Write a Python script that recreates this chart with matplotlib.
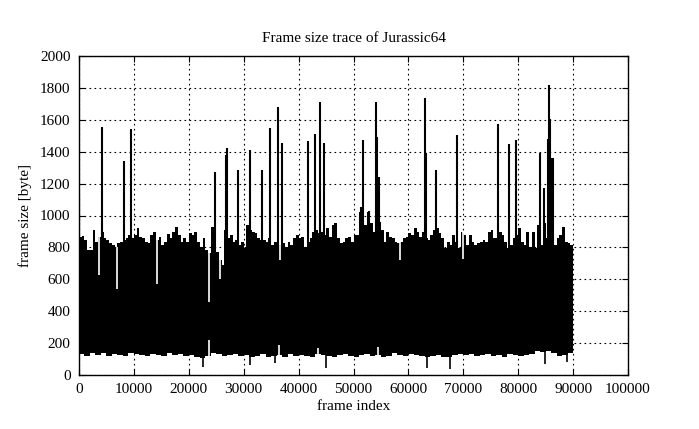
import numpy as np
import matplotlib.pyplot as plt

plt.rcParams['font.family'] = 'Liberation Serif'

# upper envelope of the trace, one value per 500 frames
upper = [867, 873, 846, 783, 783, 909, 836, 867, 898, 857, 846, 825, 815, 804, 825, 836, 846, 857, 878, 857,
         878, 920, 867, 857, 836, 825, 878, 898, 846, 867, 815, 836, 882, 857, 898, 926, 878, 836, 857, 836,
         888, 878, 898, 836, 804, 857, 783, 762, 930, 815, 773, 720, 690, 909, 857, 878, 836, 846, 815, 836,
         794, 940, 909, 898, 888, 857, 846, 846, 836, 857, 815, 836, 846, 815, 825, 804, 836, 815, 857, 878,
         857, 867, 804, 836, 857, 898, 909, 888, 898, 878, 920, 867, 940, 951, 857, 825, 836, 857, 867, 836,
         878, 878, 1024, 898, 940, 1024, 951, 898, 900, 961, 909, 836, 898, 867, 857, 836, 825, 836, 857, 867,
         888, 878, 920, 898, 867, 898, 857, 846, 878, 909, 920, 888, 857, 794, 836, 815, 878, 836, 794, 898,
         878, 815, 878, 836, 815, 825, 836, 846, 836, 898, 909, 857, 857, 898, 878, 836, 794, 815, 857, 878,
         920, 836, 815, 898, 804, 898, 794, 940, 815, 951, 857, 900, 900, 815, 857, 878, 930, 836, 825, 815]

# lower envelope, one value per 1000 frames
lower = [130, 120, 135, 125, 140, 120, 130, 125, 120, 135,
         130, 125, 120, 130, 125, 120, 135, 125, 130, 120,
         125, 115, 105, 120, 135, 130, 120, 125, 130, 120,
         125, 110, 120, 130, 115, 120, 125, 110, 130, 120,
         125, 120, 115, 130, 125, 120, 110, 125, 130, 120,
         115, 125, 130, 120, 125, 115, 120, 135, 125, 120,
         130, 125, 120, 115, 120, 125, 110, 115, 125, 130,
         125, 130, 120, 125, 130, 120, 125, 115, 130, 125,
         120, 125, 130, 150, 145, 150, 140, 120, 125, 135]

# isolated large frames (frame index, size)
spike_frames = [0, 4130, 8200, 9410, 24770, 26780, 26950, 28960, 31150, 33330,
                34790, 36250, 36980, 41700, 42990, 43900, 44630, 51300, 51670, 52820,
                54100, 54280, 54650, 63020, 63260, 65030, 68850, 76320, 78320, 79540,
                83970, 84700, 85430, 85610, 85790, 86150, 86340]
spike_sizes = [1122, 1557, 1344, 1540, 1275, 1379, 1425, 1287, 1413, 1287,
               1551, 1683, 1457, 1469, 1513, 1714, 1457, 1055, 1473, 1030,
               1714, 1494, 1243, 1739, 1390, 1285, 1505, 1574, 1448, 1473,
               1394, 1170, 1479, 1818, 1605, 1362, 1362]

# small frames reaching far down (frame index, size)
dip_frames = [0, 22500, 31100, 35700, 45000, 63400, 67600, 84900, 88900]
dip_sizes = [25, 50, 65, 75, 45, 45, 40, 70, 80]

# gaps seen from the top: (frame index, max size in that spot)
gap_top_frames = [3640, 6870, 14200, 23700, 25700, 36600, 58500, 69900]
gap_top_sizes = [630, 540, 570, 455, 600, 720, 720, 730]

# gaps seen from the bottom: (frame index, min size in that spot)
gap_bot_frames = [23700, 36500, 43500, 54500]
gap_bot_sizes = [220, 185, 170, 175]

fig = plt.figure(figsize=(6.99, 4.29), dpi=100)
ax = fig.add_axes([79 / 699, 54 / 429, 549 / 699, 319 / 429])

ex = np.arange(len(upper) + 1) * 500
ey = np.append(upper, upper[-1])
lo = np.repeat(lower, 2)
lo = np.append(lo, lo[-1])
ax.fill_between(ex, lo, ey, step='post', color='black', lw=0, zorder=2)

ax.vlines(spike_frames, 300, spike_sizes, color='black', lw=1.5, zorder=3)
ax.vlines(dip_frames, dip_sizes, 300, color='black', lw=1.2, zorder=3)
top_at = [upper[min(f // 500, len(upper) - 1)] for f in gap_top_frames]
ax.vlines(gap_top_frames, gap_top_sizes, top_at, color='white', lw=1.2, zorder=3)
bot_at = [lower[min(f // 1000, len(lower) - 1)] for f in gap_bot_frames]
ax.vlines(gap_bot_frames, bot_at, gap_bot_sizes, color='white', lw=1.2, zorder=3)

ax.set_xlim(0, 100000)
ax.set_ylim(0, 2000)
ax.set_xticks(np.arange(0, 100001, 10000))
ax.set_yticks(np.arange(0, 2001, 200))
ax.grid(True, color='black', linestyle=(0, (1.5, 3)), lw=0.8, zorder=1)
ax.set_axisbelow(True)
ax.tick_params(direction='in', top=True, right=True, length=4, labelsize=11, pad=6)
for s in ax.spines.values():
    s.set_linewidth(1)

ax.set_title('Frame size trace of Jurassic64', fontsize=11, pad=10)
ax.set_xlabel('frame index', fontsize=11, labelpad=3)
ax.set_ylabel('frame size [byte]', fontsize=11, labelpad=6)

fig.savefig('out.png', dpi=100)
